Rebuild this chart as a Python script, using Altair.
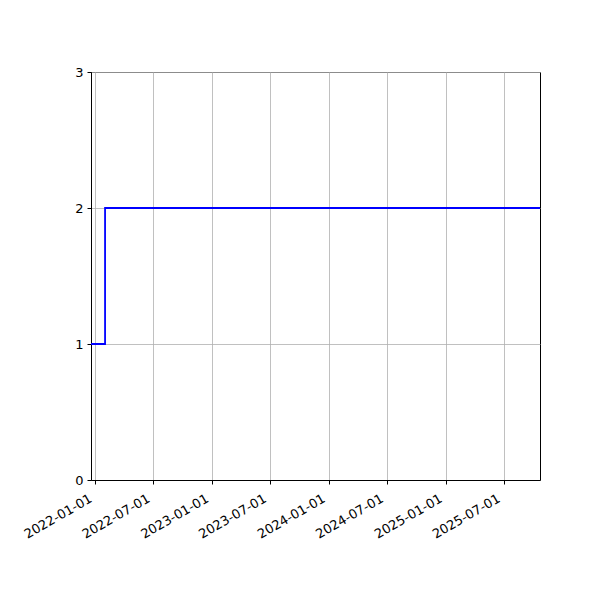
import altair as alt
import pandas as pd

dates = ["2021-12-18", "2022-01-31", "2025-10-23"]
values = [1, 2, 2]

tick_dates = [(2022, 1), (2022, 7), (2023, 1), (2023, 7), (2024, 1), (2024, 7), (2025, 1), (2025, 7)]

df = pd.DataFrame({"date": dates, "value": values})

x_ticks = [alt.DateTime(year=y, month=m, date=1, utc=True) for y, m in tick_dates]

chart = alt.Chart(df).mark_line(
    interpolate="step-after", color="#0000ff", strokeWidth=1.8, clip=True
).encode(
    x=alt.X(
        "date:T",
        scale=alt.Scale(
            type="utc",
            domain=[alt.DateTime(year=2021, month=12, date=18, utc=True),
                    alt.DateTime(year=2025, month=10, date=23, utc=True)],
            nice=False,
        ),
        axis=alt.Axis(
            values=x_ticks, labelExpr="utcFormat(datum.value, '%Y-%m-%d')", title=None,
            labelAngle=-30, labelAlign="right", labelBaseline="top",
            labelPadding=8, labelOffset=-8, tickSize=4, grid=True,
            labelOverlap=False, labelBound=False, labelFlush=False,
        ),
    ),
    y=alt.Y(
        "value:Q",
        scale=alt.Scale(domain=[0, 3], nice=False, zero=True),
        axis=alt.Axis(values=[0, 1, 2, 3], format="d", title=None,
                      tickSize=4, labelPadding=4, grid=True),
    ),
).properties(
    width=449, height=408,
    autosize=alt.AutoSizeParams(type="none"),
    padding={"left": 83, "top": 64, "right": 52, "bottom": 112},
).configure_view(
    stroke="black", strokeWidth=1
).configure_axis(
    domainColor="black", domainWidth=1, tickColor="black", tickWidth=1,
    labelColor="black", labelFont="DejaVu Sans", labelFontSize=13,
    gridColor="#b0b0b0", gridWidth=0.8, gridOpacity=1,
)

chart.save("out.html", embed_options={"renderer": "svg", "actions": False})
